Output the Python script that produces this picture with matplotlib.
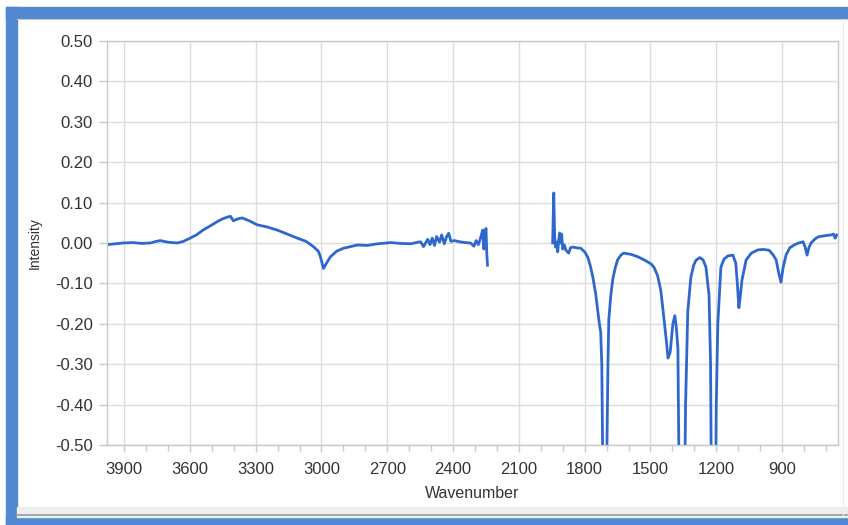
import numpy as np
import matplotlib
matplotlib.use('Agg')
import matplotlib.pyplot as plt
import matplotlib.ticker as mticker
from matplotlib.patches import Rectangle

#----------------------------------------------------------------------------
# Data (two segments, gap around 2250-1950)
#----------------------------------------------------------------------------

wn_left = [3978, 3905, 3860, 3820, 3781, 3760, 3736, 3700, 3658, 3630, 3599,
           3570, 3540, 3505, 3475, 3450, 3430, 3415, 3402, 3380, 3362, 3330,
           3293, 3250, 3202, 3160, 3110, 3070, 3037, 3015, 3005, 2991, 2975,
           2959, 2930, 2900, 2836, 2790, 2745, 2685, 2640, 2594, 2560, 2548,
           2535, 2516, 2505, 2495, 2485, 2475, 2462, 2452, 2440, 2430, 2420,
           2410, 2395, 2370, 2345, 2320, 2305, 2295, 2285, 2275, 2265, 2260,
           2255, 2250, 2246, 2243]
int_left = [-0.004, 0.000, 0.001, -0.001, 0.000, 0.003, 0.006, 0.002, 0.000,
            0.004, 0.012, 0.020, 0.032, 0.043, 0.053, 0.060, 0.064, 0.066,
            0.055, 0.060, 0.062, 0.055, 0.045, 0.040, 0.032, 0.023, 0.012,
            0.004, -0.009, -0.020, -0.034, -0.063, -0.048, -0.034, -0.020,
            -0.013, -0.005, -0.006, -0.002, 0.001, -0.001, -0.002, 0.002,
            0.003, -0.009, 0.009, -0.004, 0.012, -0.006, 0.016, 0.002, 0.020,
            -0.002, 0.015, 0.024, 0.004, 0.006, 0.003, 0.001, 0.000, -0.008,
            0.006, -0.004, 0.012, 0.032, -0.015, 0.018, 0.036, -0.030, -0.055]

wn_right = [1946, 1941, 1937, 1933, 1928, 1923, 1918, 1914, 1910, 1905, 1900,
            1893, 1885, 1873, 1865, 1855, 1835, 1818, 1800, 1786, 1775, 1763,
            1750, 1740, 1733, 1727, 1722, 1713, 1705, 1694, 1690, 1681, 1672,
            1660, 1650, 1635, 1622, 1590, 1558, 1535, 1512, 1497, 1484, 1468,
            1453, 1438, 1428, 1420, 1410, 1398, 1389, 1382, 1375, 1366, 1357,
            1348, 1340, 1330, 1316, 1303, 1293, 1275, 1260, 1247, 1233, 1226,
            1220, 1212, 1206, 1200, 1193, 1179, 1165, 1147, 1124, 1111, 1104,
            1097, 1090, 1083, 1064, 1040, 1010, 985, 959, 940, 927, 915, 905,
            895, 882, 865, 845, 825, 804, 795, 786, 778, 768, 750, 736, 705,
            677, 665, 658, 650]
int_right = [0.000, 0.124, 0.015, -0.010, 0.002, -0.022, 0.010, 0.025, 0.000,
             0.022, -0.015, -0.005, -0.018, -0.025, -0.012, -0.010, -0.012,
             -0.013, -0.022, -0.035, -0.055, -0.084, -0.125, -0.170, -0.200,
             -0.220, -0.300, -0.800, -0.800, -0.300, -0.190, -0.130, -0.090,
             -0.060, -0.042, -0.030, -0.025, -0.028, -0.034, -0.040, -0.047,
             -0.052, -0.060, -0.080, -0.117, -0.190, -0.240, -0.285, -0.270,
             -0.200, -0.180, -0.210, -0.260, -0.800, -0.800, -0.800, -0.400,
             -0.170, -0.085, -0.055, -0.043, -0.036, -0.042, -0.060, -0.130,
             -0.300, -0.800, -0.800, -0.800, -0.400, -0.200, -0.060, -0.040,
             -0.032, -0.030, -0.050, -0.100, -0.160, -0.130, -0.092, -0.042,
             -0.025, -0.017, -0.016, -0.018, -0.030, -0.042, -0.075, -0.097,
             -0.060, -0.030, -0.012, -0.005, 0.000, 0.003, -0.010, -0.030,
             -0.012, 0.000, 0.010, 0.015, 0.018, 0.020, 0.022, 0.012, 0.020]

x_ticks = [3900, 3600, 3300, 3000, 2700, 2400, 2100, 1800, 1500, 1200, 900]
y_ticks = [-0.5, -0.4, -0.3, -0.2, -0.1, 0.0, 0.1, 0.2, 0.3, 0.4, 0.5]

LINE_COLOR = '#2f68cc'
FRAME_BLUE = '#5287d2'
TEXT_COLOR = '#333333'
GRID_COLOR = '#dcdcdc'

plt.rcParams.update({
    'font.family': ['Liberation Sans', 'DejaVu Sans'],
    'font.size': 12,
})

fig = plt.figure(figsize=(8.48, 5.25), dpi=100)
ax = fig.add_axes([107/848, 1 - 445/525, (838 - 107)/848, (445 - 41)/525])

# window frame around the chart
fig.patches.append(Rectangle((6/848, 0), 11/848, 1 - 7/525, transform=fig.transFigure,
                             color=FRAME_BLUE, zorder=0))
fig.patches.append(Rectangle((6/848, 1 - 18/525), 1, 11/525, transform=fig.transFigure,
                             color=FRAME_BLUE, zorder=0))
fig.patches.append(Rectangle((6/848, 0), 1, 8/525, transform=fig.transFigure,
                             color=FRAME_BLUE, zorder=0))
fig.patches.append(Rectangle((17/848, 8/525), 1, 10/525, transform=fig.transFigure,
                             color='#eeeeee', zorder=0))
fig.lines.append(plt.Line2D([17/848, 1], [10/525, 10/525], transform=fig.transFigure,
                            color='#9a9a9a', lw=1.2))
fig.lines.append(plt.Line2D([17/848, 1], [1 - 19/525, 1 - 19/525], transform=fig.transFigure,
                            color='#c8c8c8', lw=0.8))
fig.lines.append(plt.Line2D([843/848, 843/848], [10/525, 1 - 19/525], transform=fig.transFigure,
                            color='#ececec', lw=0.8))

ax.plot(wn_left, int_left, color=LINE_COLOR, lw=2.0, solid_joinstyle='round')
ax.plot(wn_right, int_right, color=LINE_COLOR, lw=2.0, solid_joinstyle='round')

ax.set_xlim(3978, 645)
ax.set_ylim(-0.5, 0.5)
ax.set_xticks(x_ticks)
ax.xaxis.set_minor_locator(mticker.MultipleLocator(100))
ax.set_yticks(y_ticks)
ax.yaxis.set_major_formatter(mticker.FormatStrFormatter('%.2f'))

ax.grid(True, which='major', color=GRID_COLOR, lw=1.0)
ax.set_axisbelow(True)
for sp in ax.spines.values():
    sp.set_color('#c8c8c8')
    sp.set_linewidth(1.0)

ax.tick_params(axis='both', which='major', colors='#c8c8c8', labelcolor=TEXT_COLOR,
               length=5, width=1.0, labelsize=12)
ax.tick_params(axis='x', which='minor', colors='#c8c8c8', length=4, width=1.0)
ax.tick_params(axis='x', which='major', pad=7)
ax.tick_params(axis='y', which='major', length=6, pad=4)

ax.set_xlabel('Wavenumber', color=TEXT_COLOR, fontsize=11.5, labelpad=7)
ax.set_ylabel('Intensity', color=TEXT_COLOR, fontsize=10, labelpad=10)

fig.savefig('out.png', dpi=100)
